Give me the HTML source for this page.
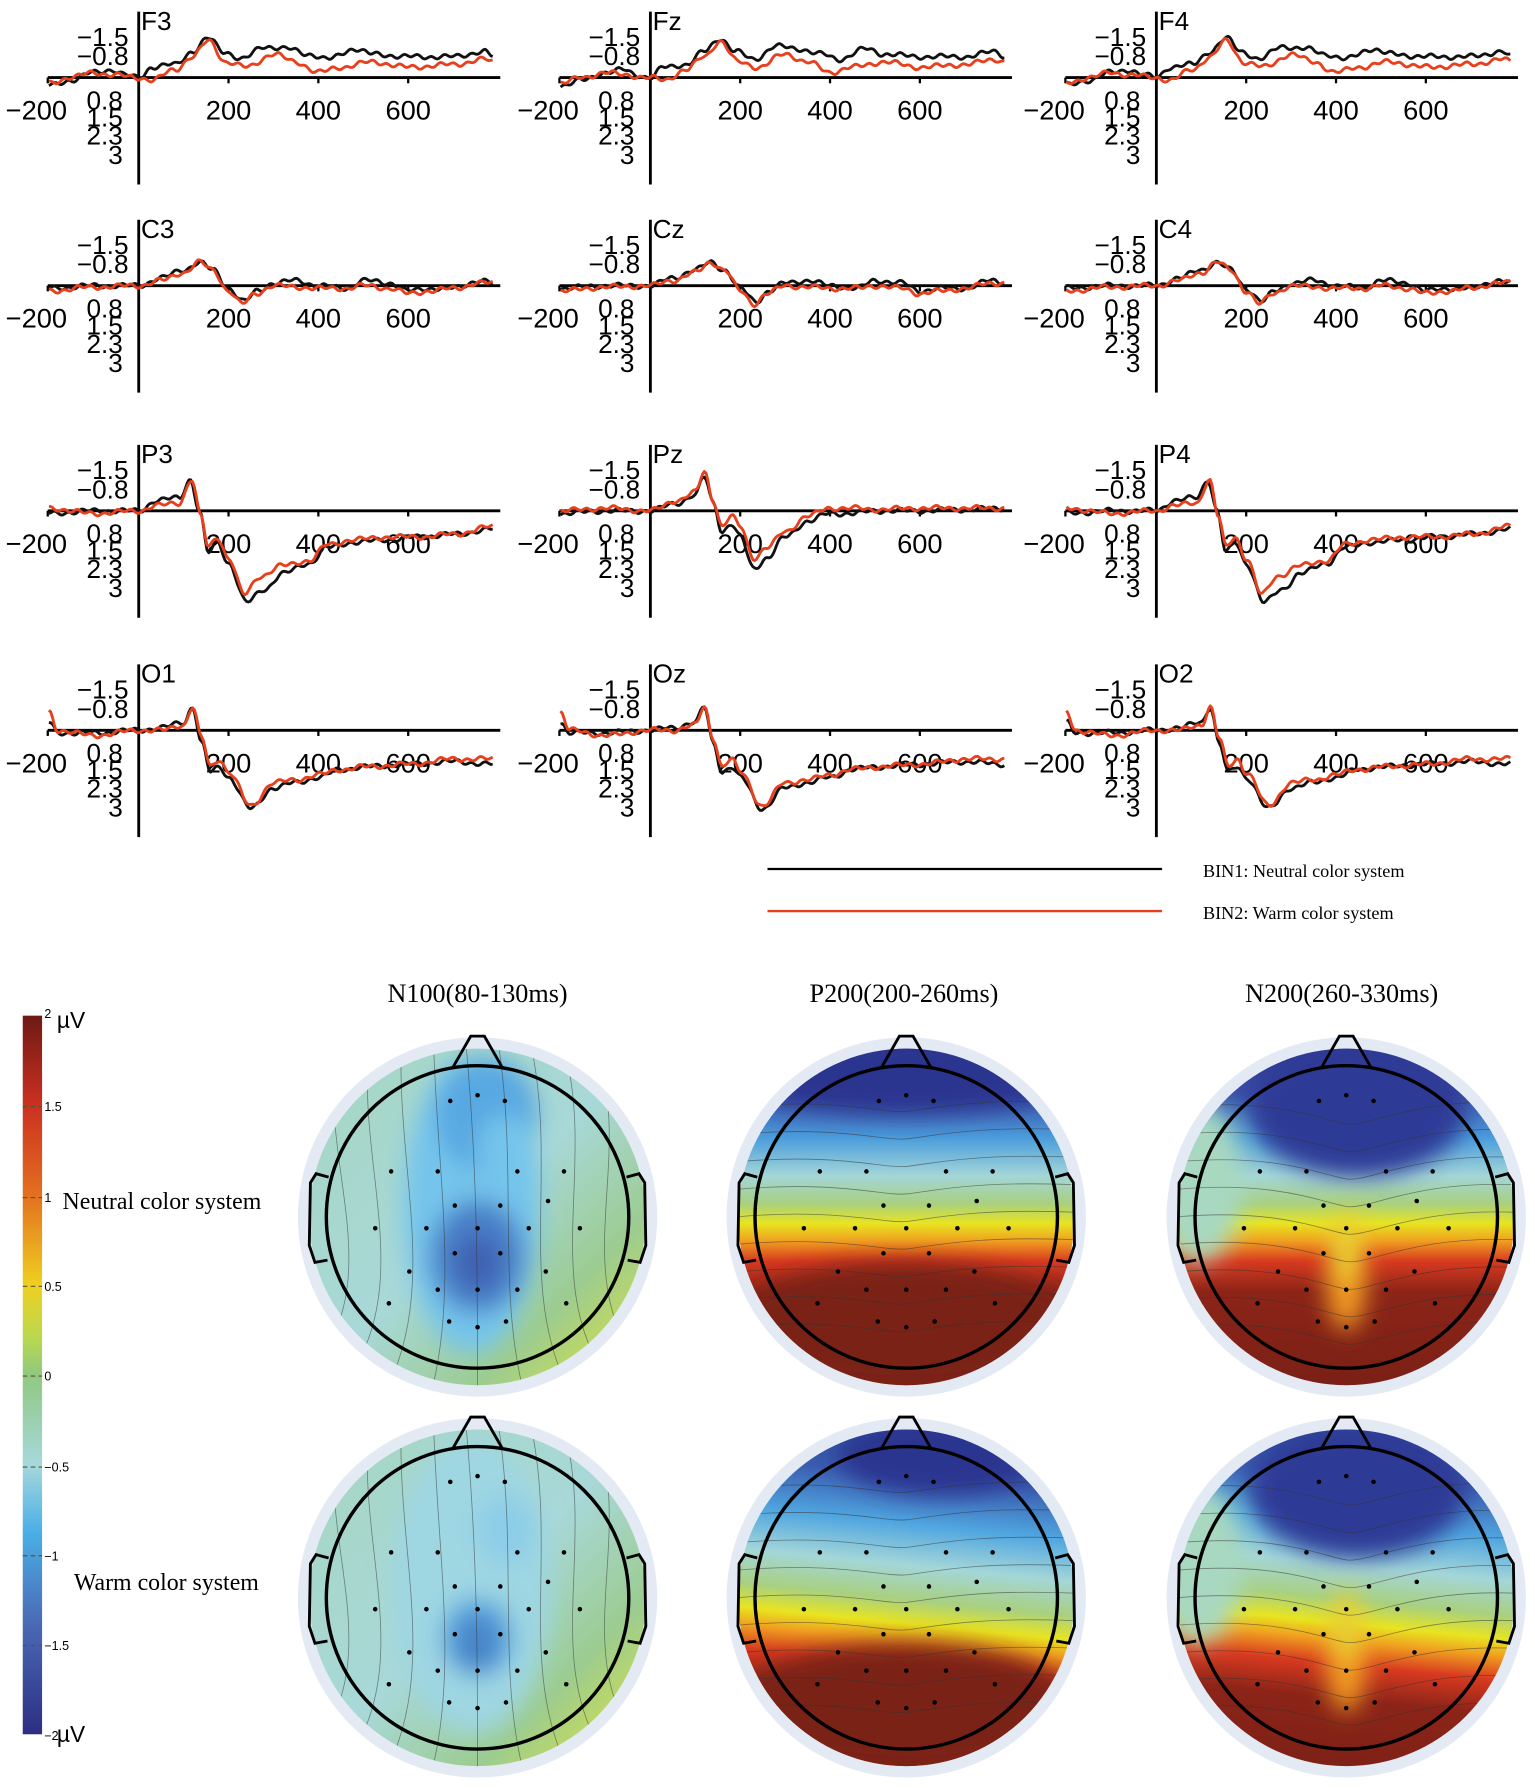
<!DOCTYPE html>
<html><head><meta charset="utf-8"><style>
html,body{margin:0;padding:0;background:#fff;}
svg{display:block;}
.t{font-family:"Liberation Sans","DejaVu Sans",sans-serif;fill:#000;}
.s{font-family:"Liberation Serif",serif;fill:#000;}
</style></head><body>
<svg id="sv" width="1535" height="1788" viewBox="0 0 1350 1572" xmlns="http://www.w3.org/2000/svg">
<defs>
<filter id="bl" x="-50%" y="-50%" width="200%" height="200%"><feGaussianBlur stdDeviation="10"/></filter>
<linearGradient id="cb" x1="0" y1="0" x2="0" y2="1">
<stop offset="0" stop-color="#6e1a14"/><stop offset="0.125" stop-color="#cc3020"/><stop offset="0.25" stop-color="#e37020"/>
<stop offset="0.375" stop-color="#efd020"/><stop offset="0.45" stop-color="#b8d850"/><stop offset="0.5" stop-color="#90c880"/>
<stop offset="0.625" stop-color="#a6d8dc"/><stop offset="0.72" stop-color="#4aaee6"/><stop offset="0.85" stop-color="#4a68b4"/>
<stop offset="1" stop-color="#2c2e82"/></linearGradient>
<linearGradient id="p200a" gradientUnits="objectBoundingBox" x1="0" y1="0" x2="0" y2="1">
<stop offset="0" stop-color="#2c3590"/><stop offset="0.14" stop-color="#3a50a8"/><stop offset="0.27" stop-color="#4c9edc"/>
<stop offset="0.38" stop-color="#a4d6d8"/><stop offset="0.46" stop-color="#a8d080"/><stop offset="0.52" stop-color="#e8e420"/>
<stop offset="0.57" stop-color="#f0a020"/><stop offset="0.63" stop-color="#d83a20"/><stop offset="0.72" stop-color="#8c2418"/><stop offset="1" stop-color="#7a2016"/></linearGradient>
<linearGradient id="p200b" gradientUnits="objectBoundingBox" x1="0.1" y1="0" x2="0" y2="1">
<stop offset="0" stop-color="#3050a0"/><stop offset="0.1" stop-color="#3a5cb0"/><stop offset="0.24" stop-color="#50a6e0"/>
<stop offset="0.36" stop-color="#a4d6d8"/><stop offset="0.46" stop-color="#a8d080"/><stop offset="0.53" stop-color="#e8e420"/>
<stop offset="0.58" stop-color="#f0a020"/><stop offset="0.65" stop-color="#d83a20"/><stop offset="0.75" stop-color="#8c2418"/><stop offset="1" stop-color="#7a2016"/></linearGradient>
<linearGradient id="n100" x1="0" y1="0" x2="1" y2="1">
<stop offset="0" stop-color="#a6d6c0"/><stop offset="0.5" stop-color="#a8d8d8"/><stop offset="0.75" stop-color="#9ccc90"/><stop offset="1" stop-color="#e8e630"/></linearGradient>
</defs>
<g id="root"></g>
</svg>
<script>
var NS="http://www.w3.org/2000/svg",root=document.getElementById('root');
function el(n,a,p){var e=document.createElementNS(NS,n);for(var k in a)e.setAttribute(k,a[k]);(p||root).appendChild(e);return e;}
function tx(x,y,s,c,fs,anc){var a={x:x,y:y,'class':c,style:'font-size:'+fs+'px'};if(anc)a['text-anchor']=anc;var e=el('text',a);e.textContent=s;return e;}
var W={
F:{b:[[-200,0.3],[-150,0.1],[-100,-0.2],[-60,-0.3],[-30,-0.1],[0,0],[30,-0.4],[80,-0.5],[120,-1.0],[155,-1.5],[190,-1.0],[230,-0.7],[280,-1.2],[330,-1.1],[380,-0.9],[420,-0.7],[480,-1.1],[520,-0.9],[600,-0.8],[700,-0.8],[770,-1.0],[790,-0.8]],
   r:[[-200,0.2],[-150,0],[-100,-0.2],[-60,-0.1],[0,0],[30,0.1],[80,-0.3],[120,-0.8],[155,-1.4],[195,-0.6],[240,-0.4],[300,-0.9],[350,-0.6],[400,-0.2],[450,-0.4],[520,-0.6],[600,-0.4],[700,-0.5],[770,-0.7],[790,-0.6]]},
C:{b:[[-200,0.1],[-100,0],[0,0],[50,-0.3],[100,-0.6],[135,-0.9],[165,-0.6],[200,0.1],[235,0.6],[265,0.2],[300,-0.1],[350,-0.2],[400,0],[460,0.1],[500,-0.2],[560,-0.1],[600,0.2],[650,0.1],[700,0.1],[760,-0.2],[790,-0.1]],
   r:[[-200,0.2],[-100,0.05],[0,0],[50,-0.2],[100,-0.5],[135,-0.9],[165,-0.6],[200,0.2],[230,0.7],[260,0.3],[300,0],[350,0.05],[400,0.1],[460,0.1],[500,0],[560,0.1],[600,0.3],[650,0.2],[700,0.1],[760,-0.1],[790,-0.1]]},
P:{b:[[-200,0.1],[-100,0],[0,0],[40,-0.4],[90,-0.5],[115,-1.2],[135,0],[155,1.6],[175,1.2],[200,2.0],[240,3.5],[280,3.0],[320,2.4],[380,2.0],[420,1.4],[480,1.2],[560,1.1],[620,1.0],[700,0.9],[790,0.7]],
   r:[[-200,-0.1],[-100,0.1],[0,0],[40,-0.2],[90,-0.3],[118,-1.2],[138,0.2],[155,1.4],[175,1.0],[200,1.8],[235,3.2],[270,2.5],[320,2.1],[380,1.9],[420,1.3],[480,1.1],[560,1.0],[620,1.0],[700,0.9],[790,0.6]]},
Q:{b:[[-200,0.1],[-100,0],[0,0],[60,-0.3],[100,-0.6],[120,-1.3],[140,-0.3],[160,0.8],[180,0.5],[200,1.0],[230,2.2],[260,1.8],[300,1.0],[350,0.4],[400,0.1],[450,0.1],[500,0],[600,0],[700,-0.05],[790,-0.1]],
   r:[[-200,0],[-100,-0.1],[0,0],[60,-0.4],[100,-0.7],[120,-1.5],[140,-0.4],[160,0.6],[180,0.2],[200,0.6],[230,1.8],[260,1.4],[300,0.8],[350,0.2],[400,-0.1],[450,-0.1],[500,-0.05],[600,-0.1],[700,-0.1],[790,-0.1]]},
O:{b:[[-200,-0.3],[-180,0.1],[-100,0.1],[0,0],[50,-0.1],[100,-0.3],[120,-0.9],[140,0.5],[160,1.6],[180,1.4],[200,1.8],[250,3.0],[300,2.2],[350,2.0],[400,1.8],[450,1.5],[500,1.4],[600,1.3],[700,1.2],[790,1.3]],
   r:[[-200,-0.7],[-180,0],[-100,0.2],[0,0],[50,0],[100,-0.2],[120,-0.9],[140,0.3],[160,1.4],[180,1.1],[200,1.6],[250,2.9],[300,2.0],[350,1.9],[400,1.7],[450,1.5],[500,1.4],[600,1.3],[700,1.1],[790,1.1]]}};
var rows=[[68,['F','F','F'],['F3','Fz','F4']],[251,['C','C','C'],['C3','Cz','C4']],[449,['P','Q','P'],['P3','Pz','P4']],[642,['O','O','O'],['O1','Oz','O2']]];
var cols=[122,572,1017];
function interp(d,t){for(var i=0;i<d.length-1;i++){if(t>=d[i][0]&&t<=d[i+1][0]){var f=(t-d[i][0])/(d[i+1][0]-d[i][0]);f=(1-Math.cos(f*Math.PI))/2;return d[i][1]+f*(d[i+1][1]-d[i][1]);}}return d[d.length-1][1];}
rows.forEach(function(r,ri){var oy=r[0];cols.forEach(function(ox,ci){
 el('line',{x1:ox-80,y1:oy,x2:ox+318,y2:oy,stroke:'#000','stroke-width':2.5});
 el('line',{x1:ox,y1:oy-58,x2:ox,y2:oy+94,stroke:'#000','stroke-width':2.5});
 [200,400,600].forEach(function(m){el('line',{x1:ox+m*0.395,y1:oy,x2:ox+m*0.395,y2:oy+5,stroke:'#000','stroke-width':2});});
 el('line',{x1:ox-80,y1:oy,x2:ox-80,y2:oy+5,stroke:'#000','stroke-width':2});
 tx(ox+2,oy-42,r[2][ci],'t',23);
 tx(ox-9,oy-28,'\u22121.5','t',23,'end');
 tx(ox-9,oy-11,'\u22120.8','t',23,'end');
 tx(ox-14,oy+28,'0.8','t',23,'end');
 tx(ox-14,oy+43,'1.5','t',23,'end');
 tx(ox-14,oy+59,'2.3','t',23,'end');
 tx(ox-14,oy+76,'3','t',23,'end');
 tx(ox-117,oy+37,'\u2212200','t',24);
 [200,400,600].forEach(function(m){tx(ox+m*0.395,oy+37,''+m,'t',24,'middle');});
 var w=W[r[1][ci]];
 [['b','#111'],['r','#e8401c']].forEach(function(s,si){var d=w[s[0]],p=[];
  for(var t=-200;t<=790;t+=4){var v=interp(d,t)+0.06*Math.sin(t*0.21+si*2+ci)+0.05*Math.sin(t*0.07+ci*3+si);p.push((ox+t*0.395).toFixed(1)+','+(oy+v*23).toFixed(1));}
  el('polyline',{points:p.join(' '),fill:'none',stroke:s[1],'stroke-width':2.5,'stroke-linejoin':'round'});});
});});
el('line',{x1:675,y1:764,x2:1022,y2:764,stroke:'#000','stroke-width':2});
el('line',{x1:675,y1:801,x2:1022,y2:801,stroke:'#e8401c','stroke-width':2});
tx(1058,771,'BIN1:  Neutral color system','s',16);
tx(1058,808,'BIN2:  Warm color system','s',16);
tx(420,881,'N100(80-130ms)','s',23,'middle');
tx(795,881,'P200(200-260ms)','s',23,'middle');
tx(1180,881,'N200(260-330ms)','s',23,'middle');
el('rect',{x:20,y:893,width:17,height:632,fill:'url(#cb)'});
var cl=[['2',893],['1.5',973],['1',1053],['0.5',1131],['0',1210],['\u22120.5',1290],['\u22121',1368],['\u22121.5',1447],['\u22122',1525]];
cl.forEach(function(c,i){if(i>0&&i<8){el('line',{x1:20,y1:c[1],x2:37,y2:c[1],stroke:'#553','stroke-width':1,'stroke-dasharray':'4,3'});}
 tx(39,c[1]+(i==0?2:i==8?5:4),c[0],'t',11);});
tx(50,904,'\u00b5V','t',20);tx(50,1532,'\u00b5V','t',20);
tx(55,1063,'Neutral color system','s',21);
tx(65,1398,'Warm color system','s',21);
var dots=[[0,-107],[-24,-102],[24,-102],[-76,-40],[-35,-40],[35,-40],[76,-40],[-20,-10],[20,-10],[62,-14],[-90,10],[-45,10],[0,10],[45,10],[90,10],[-20,32],[20,32],[-60,48],[60,48],[-35,64],[0,64],[35,64],[-78,76],[78,76],[-25,92],[0,97],[25,92]];
var ci2=0;
function head(cx,cy,type,row){
 ci2++;var id='c'+ci2;
 var cp=el('clipPath',{id:id});el('circle',{cx:cx,cy:cy,r:148},cp);
 el('circle',{cx:cx,cy:cy,r:158,fill:'#e4eaf3'});
 var g=el('g',{'clip-path':'url(#'+id+')'});
 if(type==0){
  el('rect',{x:cx-150,y:cy-150,width:300,height:300,fill:'url(#n100)'},g);
  var bg=el('g',{filter:'url(#bl)'},g);
  el('ellipse',{cx:cx-5,cy:cy-10,rx:row?70:60,ry:130,fill:row?'#9ed6e2':'#74c4ec'},bg);
  if(!row)el('ellipse',{cx:cx+8,cy:cy-90,rx:45,ry:50,fill:'#58a8e2'},bg);
  el('ellipse',{cx:cx,cy:cy+35,rx:row?32:42,ry:row?35:50,fill:row?'#56a6e0':'#4a80c8'},bg);
  el('ellipse',{cx:cx,cy:cy+40,rx:20,ry:25,fill:row?'#4a84c8':'#4060b0'},bg);
  el('ellipse',{cx:cx+25,cy:cy-60,rx:25,ry:30,fill:row?'#8ccde8':'#74c4ec'},bg);
 }else{
  el('rect',{x:cx-150,y:cy-150,width:300,height:300,fill:row?'url(#p200b)':'url(#p200a)'},g);
  var bg2=el('g',{filter:'url(#bl)'},g);
  if(type==2){
   el('ellipse',{cx:cx+10,cy:cy-95,rx:95,ry:60,fill:'#2e3a96'},bg2);
   el('ellipse',{cx:cx,cy:cy+55,rx:18,ry:45,fill:'#f09a20'},bg2);
   el('ellipse',{cx:cx,cy:cy+25,rx:14,ry:30,fill:'#e8d030'},bg2);
   el('ellipse',{cx:cx-130,cy:cy-30,rx:40,ry:70,fill:'#a8d8c0'},bg2);
  }else{
   el('ellipse',{cx:cx+(row?30:0),cy:cy-125,rx:row?90:150,ry:35,fill:'#2c3590'},bg2);
   el('ellipse',{cx:cx,cy:cy+95,rx:150,ry:55,fill:'#7a2016'},bg2);
  }
 }
 for(var k=-4;k<=4;k++){var o=k*22;
  var d=type==0?('M'+(cx+o*1.3-10)+','+(cy-150)+' C'+(cx+o*1.6)+','+(cy-40)+' '+(cx+o*0.8)+','+(cy+60)+' '+(cx+o*1.8)+','+(cy+150))
   :('M'+(cx-150)+','+(cy+o*1.1)+' C'+(cx-60)+','+(cy+o*1.1-8)+' '+(cx-20)+','+(cy+o*1.1+(type==2?12:6))+' '+cx+','+(cy+o*1.1+(type==2?15:4))+' S'+(cx+60)+','+(cy+o*1.1-8)+' '+(cx+150)+','+(cy+o*1.1-4));
  el('path',{d:d,fill:'none',stroke:'#333','stroke-width':0.7,opacity:0.55},g);}
 dots.forEach(function(p){el('circle',{cx:cx+p[0],cy:cy+p[1],r:2,fill:'#000'});});
 el('circle',{cx:cx,cy:cy,r:133,fill:'none',stroke:'#000','stroke-width':3});
 el('path',{d:'M'+(cx-22)+','+(cy-131)+' L'+(cx-6)+','+(cy-159)+' L'+(cx+6)+','+(cy-159)+' L'+(cx+22)+','+(cy-131),fill:'none',stroke:'#000','stroke-width':2.5});
 el('path',{d:'M'+(cx-131)+','+(cy-35)+' L'+(cx-142)+','+(cy-38)+' L'+(cx-147)+','+(cy-30)+' L'+(cx-148)+','+(cy+25)+' L'+(cx-143)+','+(cy+40)+' L'+(cx-132)+','+(cy+38),fill:'none',stroke:'#000','stroke-width':2.5});
 el('path',{d:'M'+(cx+131)+','+(cy-35)+' L'+(cx+142)+','+(cy-38)+' L'+(cx+147)+','+(cy-30)+' L'+(cx+148)+','+(cy+25)+' L'+(cx+143)+','+(cy+40)+' L'+(cx+132)+','+(cy+38),fill:'none',stroke:'#000','stroke-width':2.5});
}
[1070,1405].forEach(function(cy,ri){head(420,cy,0,ri);head(797,cy,1,ri);head(1184,cy,2,ri);});
</script>
</body></html>
